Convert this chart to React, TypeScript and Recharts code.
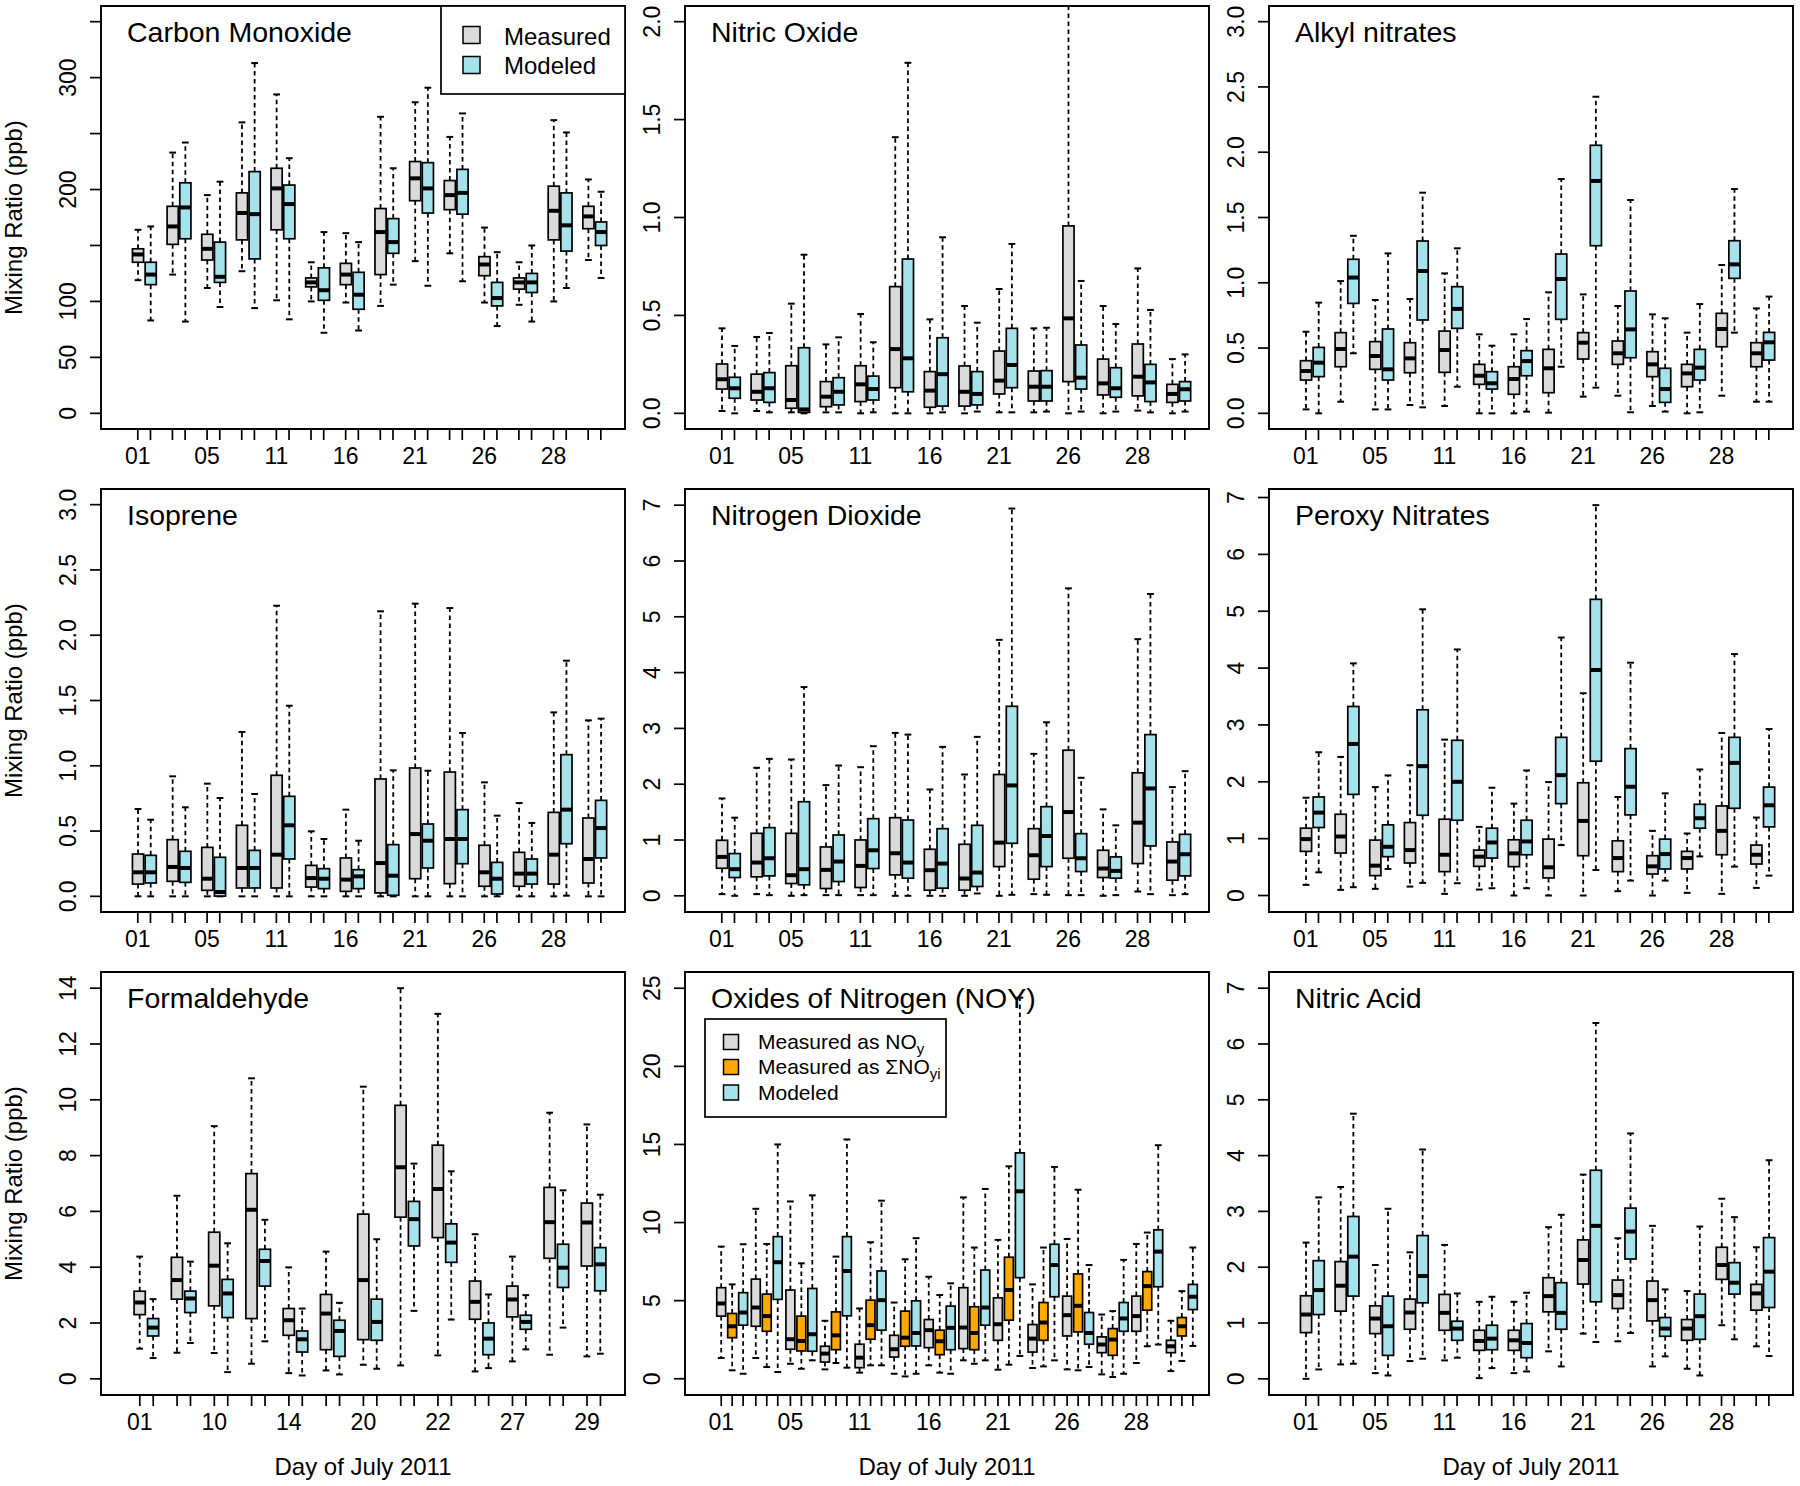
import React from 'react';
import { ComposedChart, Bar, XAxis, YAxis, ReferenceArea } from 'recharts';

// [lower whisker, Q1, median, Q3, upper whisker]
type Stat = [number, number, number, number, number];

const DAYS: string[] = ['01', '02', '05', '10', '11', '14', '16', '20', '21', '22', '26', '27', '28', '29'];
const DAYS_HCHO: string[] = ['01', '02', '10', '11', '14', '16', '20', '21', '22', '26', '27', '28', '29'];

const coMeasured: Stat[] = [
  [119, 135, 142, 147, 164], [124, 151, 167, 185, 233], [112, 137, 147, 160, 195], [127, 155, 179, 197, 260],
  [101, 164, 201, 219, 285], [100, 113, 117, 121, 135], [99, 115, 124, 134, 161], [96, 124, 162, 183, 265],
  [136, 190, 210, 225, 278], [143, 182, 195, 208, 247], [99, 123, 133, 140, 166], [97, 111, 117, 121, 135],
  [100, 155, 181, 203, 262], [137, 165, 176, 185, 209],
];
const coModeled: Stat[] = [
  [83, 115, 124, 135, 167], [82, 156, 184, 206, 242], [95, 117, 122, 153, 207], [94, 138, 178, 216, 313],
  [84, 156, 187, 204, 228], [72, 101, 110, 130, 162], [74, 93, 106, 126, 153], [115, 143, 153, 174, 219],
  [114, 179, 201, 224, 291], [118, 178, 197, 218, 268], [78, 96, 103, 117, 144], [82, 108, 117, 125, 150],
  [112, 145, 168, 197, 251], [121, 150, 162, 171, 198],
];

const noMeasured: Stat[] = [
  [0.012, 0.124, 0.174, 0.252, 0.434], [0.012, 0.068, 0.11, 0.2, 0.39], [0.005, 0.026, 0.068, 0.243, 0.56],
  [0.005, 0.034, 0.085, 0.162, 0.352], [0, 0.06, 0.148, 0.243, 0.507], [0, 0.131, 0.328, 0.647, 1.41],
  [0, 0.031, 0.116, 0.213, 0.48], [0, 0.037, 0.11, 0.242, 0.548], [0.005, 0.099, 0.167, 0.318, 0.635],
  [0.005, 0.063, 0.136, 0.216, 0.434], [0, 0.162, 0.485, 0.957, 2.6], [0, 0.094, 0.153, 0.277, 0.548],
  [0.014, 0.089, 0.187, 0.354, 0.74], [0, 0.056, 0.099, 0.148, 0.277],
];
const noModeled: Stat[] = [
  [0, 0.077, 0.128, 0.184, 0.344], [0.005, 0.056, 0.128, 0.208, 0.41], [0, 0.005, 0.02, 0.335, 0.81],
  [0.005, 0.043, 0.11, 0.182, 0.388], [0.005, 0.068, 0.124, 0.19, 0.363], [0, 0.11, 0.281, 0.788, 1.79],
  [0.005, 0.037, 0.2, 0.386, 0.899], [0.009, 0.043, 0.099, 0.213, 0.463], [0.005, 0.131, 0.247, 0.434, 0.865],
  [0.009, 0.063, 0.136, 0.218, 0.437], [0.009, 0.124, 0.182, 0.349, 0.676], [0.009, 0.082, 0.128, 0.233, 0.456],
  [0.005, 0.06, 0.158, 0.25, 0.528], [0.009, 0.063, 0.123, 0.162, 0.301],
];

const alkylMeasured: Stat[] = [
  [0.03, 0.255, 0.324, 0.403, 0.625], [0.089, 0.357, 0.493, 0.618, 1.013], [0.03, 0.337, 0.439, 0.549, 0.868],
  [0.064, 0.311, 0.421, 0.541, 0.876], [0.056, 0.314, 0.485, 0.63, 1.072], [0, 0.222, 0.288, 0.375, 0.605],
  [0, 0.146, 0.263, 0.357, 0.605], [0.005, 0.158, 0.345, 0.49, 0.927], [0.128, 0.416, 0.541, 0.618, 0.911],
  [0.135, 0.375, 0.46, 0.554, 0.822], [0.056, 0.281, 0.375, 0.472, 0.758], [0, 0.204, 0.306, 0.375, 0.618],
  [0.135, 0.51, 0.646, 0.766, 1.136], [0.089, 0.357, 0.46, 0.541, 0.804],
];
const alkylModeled: Stat[] = [
  [0, 0.281, 0.388, 0.505, 0.848], [0.46, 0.842, 1.04, 1.18, 1.36], [0.03, 0.255, 0.337, 0.646, 1.225],
  [0.046, 0.715, 1.09, 1.32, 1.69], [0.204, 0.651, 0.8, 0.97, 1.264], [0, 0.186, 0.23, 0.319, 0.518],
  [0.013, 0.288, 0.4, 0.48, 0.722], [0.357, 0.72, 1.029, 1.22, 1.795], [0.197, 1.284, 1.78, 2.053, 2.425],
  [0.008, 0.426, 0.643, 0.937, 1.634], [0.013, 0.084, 0.186, 0.345, 0.728], [0.008, 0.255, 0.35, 0.49, 0.837],
  [0.618, 1.034, 1.141, 1.322, 1.718], [0.089, 0.408, 0.544, 0.62, 0.894],
];

const isopreneMeasured: Stat[] = [
  [0, 0.094, 0.184, 0.324, 0.669], [0, 0.115, 0.225, 0.434, 0.919], [0, 0.046, 0.135, 0.375, 0.863],
  [0, 0.064, 0.217, 0.544, 1.259], [0, 0.064, 0.319, 0.927, 2.226], [0, 0.071, 0.14, 0.237, 0.498],
  [0, 0.038, 0.128, 0.294, 0.664], [0, 0.026, 0.255, 0.899, 2.183], [0, 0.135, 0.477, 0.983, 2.242],
  [0, 0.097, 0.439, 0.952, 2.208], [0, 0.077, 0.184, 0.391, 0.873], [0, 0.077, 0.174, 0.337, 0.715],
  [0, 0.094, 0.319, 0.643, 1.409], [0, 0.102, 0.286, 0.6, 1.348],
];
const isopreneModeled: Stat[] = [
  [0, 0.102, 0.184, 0.314, 0.587], [0, 0.107, 0.217, 0.345, 0.682], [0, 0.002, 0.033, 0.299, 0.753],
  [0, 0.064, 0.217, 0.352, 0.784], [0, 0.286, 0.544, 0.766, 1.46], [0, 0.059, 0.135, 0.212, 0.439],
  [0, 0.059, 0.153, 0.204, 0.426], [0, 0.008, 0.158, 0.396, 0.965], [0, 0.217, 0.426, 0.554, 0.962],
  [0, 0.25, 0.439, 0.664, 1.251], [0, 0.018, 0.135, 0.26, 0.618], [0, 0.094, 0.174, 0.286, 0.562],
  [0.005, 0.403, 0.664, 1.085, 1.805], [0, 0.294, 0.523, 0.735, 1.361],
];

const no2Measured: Stat[] = [
  [0.03, 0.494, 0.697, 0.995, 1.745], [0.03, 0.34, 0.596, 1.12, 2.294], [0, 0.22, 0.369, 1.12, 2.443],
  [0.012, 0.131, 0.465, 0.876, 1.984], [0.012, 0.149, 0.536, 1.001, 2.305], [0, 0.375, 0.763, 1.4, 2.919],
  [0, 0.101, 0.459, 0.834, 1.906], [0, 0.101, 0.31, 0.923, 2.174], [0, 0.524, 0.953, 2.174, 4.587],
  [0.03, 0.298, 0.727, 1.203, 2.544], [0.012, 0.673, 1.501, 2.609, 5.51], [0, 0.328, 0.489, 0.816, 1.549],
  [0.077, 0.578, 1.311, 2.204, 4.599], [0.012, 0.28, 0.614, 0.965, 1.948],
];
const no2Modeled: Stat[] = [
  [0, 0.328, 0.477, 0.757, 1.4], [0.012, 0.357, 0.673, 1.221, 2.454], [0.012, 0.197, 0.477, 1.686, 3.741],
  [0.012, 0.256, 0.614, 1.09, 2.335], [0.012, 0.489, 0.816, 1.382, 2.681], [0, 0.316, 0.596, 1.358, 2.889],
  [0, 0.137, 0.578, 1.203, 2.669], [0.042, 0.167, 0.417, 1.263, 2.848], [0.018, 0.941, 1.978, 3.396, 6.94],
  [0.018, 0.524, 1.072, 1.597, 3.11], [0.012, 0.435, 0.673, 1.114, 2.115], [0.012, 0.316, 0.447, 0.697, 1.263],
  [0.03, 0.894, 1.924, 2.889, 5.409], [0.03, 0.357, 0.745, 1.102, 2.234],
];

const peroxyMeasured: Stat[] = [
  [0.187, 0.776, 0.992, 1.184, 1.72], [0.099, 0.747, 1.038, 1.429, 2.438], [0.117, 0.35, 0.525, 0.974, 1.907],
  [0.157, 0.572, 0.799, 1.283, 2.292], [0.029, 0.42, 0.717, 1.342, 2.742], [0.105, 0.513, 0.683, 0.799, 1.207],
  [0, 0.508, 0.741, 0.98, 1.616], [0, 0.309, 0.496, 0.992, 1.995], [0, 0.7, 1.312, 1.983, 3.558],
  [0.076, 0.42, 0.659, 0.962, 1.733], [0, 0.379, 0.513, 0.7, 1.137], [0.047, 0.467, 0.659, 0.776, 1.091],
  [0.029, 0.717, 1.137, 1.575, 2.858], [0.134, 0.554, 0.717, 0.887, 1.371],
];
const peroxyModeled: Stat[] = [
  [0.408, 1.196, 1.458, 1.733, 2.52], [0.146, 1.779, 2.666, 3.325, 4.083], [0.467, 0.683, 0.857, 1.243, 2.112],
  [0.222, 1.412, 2.275, 3.267, 5.034], [0.216, 1.324, 2.0, 2.73, 4.328], [0.128, 0.659, 0.933, 1.184, 1.896],
  [0.128, 0.717, 0.951, 1.324, 2.199], [0.887, 1.616, 2.117, 2.782, 4.538], [0.449, 2.362, 3.967, 5.209, 6.866],
  [0.262, 1.418, 1.913, 2.584, 4.095], [0.262, 0.467, 0.729, 0.992, 1.797], [0.688, 1.184, 1.359, 1.604, 2.217],
  [0.508, 1.534, 2.333, 2.782, 4.247], [0.35, 1.207, 1.587, 1.907, 2.928],
];

const hchoMeasured: Stat[] = [
  [1.08, 2.3, 2.735, 3.14, 4.38], [0.936, 2.855, 3.539, 4.355, 6.56], [0.924, 2.615, 4.055, 5.254, 9.057],
  [0.54, 2.159, 6.058, 7.354, 10.77], [0.204, 1.56, 2.099, 2.519, 3.995], [0.3, 1.044, 2.339, 3.023, 4.559],
  [0.504, 1.404, 3.539, 5.902, 10.47], [0.48, 5.794, 7.582, 9.801, 14.0], [0.84, 5.062, 6.802, 8.373, 13.08],
  [0.264, 2.135, 2.759, 3.503, 5.182], [0.624, 2.219, 2.843, 3.323, 4.379], [0.864, 4.319, 5.614, 6.862, 9.537],
  [0.804, 4.043, 5.602, 6.298, 9.117],
];
const hchoModeled: Stat[] = [
  [0.744, 1.535, 1.835, 2.16, 2.855], [1.284, 2.375, 2.879, 3.143, 4.199], [0.24, 2.195, 3.059, 3.563, 4.858],
  [1.344, 3.323, 4.223, 4.643, 5.698], [0.12, 0.96, 1.416, 1.715, 2.519], [0.156, 0.804, 1.715, 2.099, 2.723],
  [0.36, 1.38, 2.039, 2.855, 5.002], [2.435, 4.762, 5.722, 6.358, 7.713], [2.123, 4.175, 4.882, 5.554, 7.438],
  [0.384, 0.864, 1.44, 2.003, 3.023], [1.056, 1.775, 2.039, 2.279, 2.999], [1.835, 3.275, 3.983, 4.823, 6.754],
  [0.9, 3.155, 4.103, 4.703, 6.598],
];

const noyMeasured: Stat[] = [
  [1.33, 4.01, 4.82, 5.83, 8.46], [1.33, 3.36, 4.56, 6.38, 10.88], [0.96, 1.89, 2.53, 5.68, 11.35],
  [0.6, 1.07, 1.61, 2.08, 3.71], [0.39, 0.71, 1.35, 2.21, 4.5], [0.32, 1.39, 1.89, 2.78, 4.88],
  [0.86, 1.99, 3.11, 3.79, 6.53], [1.18, 1.93, 3.28, 5.83, 11.61], [0.58, 2.46, 3.49, 5.18, 8.89],
  [0.69, 1.71, 2.57, 3.47, 6.04], [0.6, 2.74, 4.07, 5.29, 8.95], [0.28, 1.67, 2.19, 2.68, 4.11],
  [1.01, 3.04, 4.01, 5.29, 8.63], [0.49, 1.67, 2.08, 2.46, 3.71],
];
const noySum: Stat[] = [
  [0.54, 2.63, 3.36, 4.18, 6.04], [0.75, 3.04, 4.01, 5.42, 8.63], [0.64, 1.78, 2.42, 4.01, 7.39],
  [1.01, 1.86, 2.78, 4.28, 7.82], [0.86, 2.53, 3.43, 5.03, 8.74], [0.15, 2.08, 2.63, 4.33, 7.65],
  [0.39, 1.54, 2.4, 3.11, 5.36], [0.96, 1.86, 2.93, 4.61, 8.4], [0.9, 3.75, 5.68, 7.78, 13.6],
  [0.79, 2.46, 3.6, 4.88, 8.4], [0.54, 3.0, 4.67, 6.71, 12.1], [0.11, 1.5, 2.51, 3.21, 4.33],
  [2.08, 4.39, 5.93, 6.86, 9.36], [1.14, 2.74, 3.36, 3.92, 5.61],
];
const noyModeled: Stat[] = [
  [0.32, 3.43, 4.24, 5.51, 8.61], [0.43, 5.08, 7.46, 9.1, 15.0], [1.18, 1.76, 2.85, 5.78, 11.74],
  [0.71, 4.03, 6.9, 9.1, 15.32], [0.86, 3.11, 5.03, 6.9, 11.4], [0.32, 2.1, 2.93, 4.99, 9.0],
  [0.32, 1.86, 3.26, 4.65, 6.11], [1.18, 3.43, 4.56, 6.96, 12.15], [1.46, 6.47, 12.0, 14.46, 24.4],
  [1.18, 5.25, 7.28, 8.61, 13.56], [0.75, 2.21, 2.93, 4.24, 7.28], [0.32, 3.04, 3.86, 4.88, 7.61],
  [2.19, 5.89, 8.14, 9.53, 14.95], [2.1, 4.43, 5.25, 6.04, 8.4],
];

const hno3Measured: Stat[] = [
  [0, 0.828, 1.152, 1.488, 2.441], [0.258, 1.212, 1.668, 2.1, 3.437], [0.102, 0.81, 1.08, 1.308, 2.039],
  [0.318, 0.888, 1.188, 1.428, 2.267], [0.33, 0.87, 1.182, 1.512, 2.399], [0.012, 0.51, 0.678, 0.87, 1.38],
  [0.102, 0.51, 0.69, 0.87, 1.38], [0.492, 1.2, 1.482, 1.812, 2.717], [0.81, 1.698, 2.129, 2.489, 3.659],
  [0.672, 1.26, 1.5, 1.77, 2.519], [0.222, 1.038, 1.41, 1.752, 2.741], [0.18, 0.69, 0.9, 1.062, 1.572],
  [0.96, 1.782, 2.039, 2.357, 3.227], [0.582, 1.23, 1.53, 1.692, 2.357],
];
const hno3Modeled: Stat[] = [
  [0.168, 1.152, 1.59, 2.117, 3.251], [0.27, 1.482, 2.189, 2.909, 4.751], [0.06, 0.42, 0.942, 1.482, 3.047],
  [0.36, 1.362, 1.842, 2.567, 4.109], [0.378, 0.69, 0.9, 1.032, 1.53], [0.192, 0.522, 0.72, 0.96, 1.47],
  [0.132, 0.378, 0.642, 0.99, 1.542], [0.222, 0.888, 1.182, 1.722, 2.939], [0.66, 1.38, 2.741, 3.737, 6.376],
  [0.822, 2.147, 2.639, 3.059, 4.397], [0.402, 0.762, 0.9, 1.098, 1.602], [0.06, 0.708, 1.122, 1.518, 2.729],
  [0.708, 1.518, 1.722, 2.081, 2.897], [0.408, 1.278, 1.92, 2.531, 3.917],
];

// y-axis ticks and their labels
const coTicks = [0, 50, 100, 150, 200, 250, 300, 350];
const coTickLabels = ['0', '50', '100', '', '200', '', '300', ''];
const t2Ticks = [0, 0.5, 1, 1.5, 2];
const t2Labels = ['0.0', '0.5', '1.0', '1.5', '2.0'];
const t3Ticks = [0, 0.5, 1, 1.5, 2, 2.5, 3];
const t3Labels = ['0.0', '0.5', '1.0', '1.5', '2.0', '2.5', '3.0'];
const t7Ticks = [0, 1, 2, 3, 4, 5, 6, 7];
const t7Labels = ['0', '1', '2', '3', '4', '5', '6', '7'];
const t14Ticks = [0, 2, 4, 6, 8, 10, 12, 14];
const t14Labels = ['0', '2', '4', '6', '8', '10', '12', '14'];
const t25Ticks = [0, 5, 10, 15, 20, 25];
const t25Labels = ['0', '5', '10', '15', '20', '25'];

const GRAY = '#DADADA';
const CYAN = '#A5E2EB';
const ORANGE = '#FFA800';
const FONT = '"Liberation Sans", Arial, Helvetica, sans-serif';

const FRAME_W = 524;
const FRAME_H = 423;
const YA = 100;
const XA = 92;
const PAD = 3;
const COLS = [101, 685, 1269];
const ROWS = [6, 489, 972];

interface Layout { xDomain: [number, number]; offsets: number[]; boxW: number }
const PAIR14: Layout = { xDomain: [-0.245, 14.88], offsets: [-0.183, 0.183], boxW: 0.322 };
const PAIR13: Layout = { xDomain: [-0.221, 13.839], offsets: [-0.18, 0.18], boxW: 0.3 };
const TRIPLE14: Layout = { xDomain: [-0.364, 14.784], offsets: [-0.317, 0, 0.317], boxW: 0.258 };

interface Series { fill: string; stats: Stat[] }
interface PanelCfg {
  title: string;
  days: string[];
  layout: Layout;
  series: Series[];
  yDomain: [number, number];
  yTicks: number[];
  yLabels: string[];
  legend?: 'pair' | 'noy';
  col: number;
  row: number;
}

const PANELS: PanelCfg[] = [
  { title: 'Carbon Monoxide', days: DAYS, layout: PAIR14, series: [{ fill: GRAY, stats: coMeasured }, { fill: CYAN, stats: coModeled }], yDomain: [-14, 364], yTicks: coTicks, yLabels: coTickLabels, legend: 'pair', col: 0, row: 0 },
  { title: 'Nitric Oxide', days: DAYS, layout: PAIR14, series: [{ fill: GRAY, stats: noMeasured }, { fill: CYAN, stats: noModeled }], yDomain: [-0.08, 2.08], yTicks: t2Ticks, yLabels: t2Labels, col: 1, row: 0 },
  { title: 'Alkyl nitrates', days: DAYS, layout: PAIR14, series: [{ fill: GRAY, stats: alkylMeasured }, { fill: CYAN, stats: alkylModeled }], yDomain: [-0.12, 3.12], yTicks: t3Ticks, yLabels: t3Labels, col: 2, row: 0 },
  { title: 'Isoprene', days: DAYS, layout: PAIR14, series: [{ fill: GRAY, stats: isopreneMeasured }, { fill: CYAN, stats: isopreneModeled }], yDomain: [-0.12, 3.12], yTicks: t3Ticks, yLabels: t3Labels, col: 0, row: 1 },
  { title: 'Nitrogen Dioxide', days: DAYS, layout: PAIR14, series: [{ fill: GRAY, stats: no2Measured }, { fill: CYAN, stats: no2Modeled }], yDomain: [-0.29, 7.29], yTicks: t7Ticks, yLabels: t7Labels, col: 1, row: 1 },
  { title: 'Peroxy Nitrates', days: DAYS, layout: PAIR14, series: [{ fill: GRAY, stats: peroxyMeasured }, { fill: CYAN, stats: peroxyModeled }], yDomain: [-0.29, 7.15], yTicks: t7Ticks, yLabels: t7Labels, col: 2, row: 1 },
  { title: 'Formaldehyde', days: DAYS_HCHO, layout: PAIR13, series: [{ fill: GRAY, stats: hchoMeasured }, { fill: CYAN, stats: hchoModeled }], yDomain: [-0.58, 14.58], yTicks: t14Ticks, yLabels: t14Labels, col: 0, row: 2 },
  { title: 'Oxides of Nitrogen (NOY)', days: DAYS, layout: TRIPLE14, series: [{ fill: GRAY, stats: noyMeasured }, { fill: ORANGE, stats: noySum }, { fill: CYAN, stats: noyModeled }], yDomain: [-1.04, 26.04], yTicks: t25Ticks, yLabels: t25Labels, legend: 'noy', col: 1, row: 2 },
  { title: 'Nitric Acid', days: DAYS, layout: PAIR14, series: [{ fill: GRAY, stats: hno3Measured }, { fill: CYAN, stats: hno3Modeled }], yDomain: [-0.29, 7.29], yTicks: t7Ticks, yLabels: t7Labels, col: 2, row: 2 },
];

const BoxShape = (props: any) => {
  const { x, y, width, height, payload } = props;
  if (!payload || x == null || y == null) return null;
  const [lo, q1, med, q3, hi] = payload.stats as Stat;
  const top = Math.min(y, y + height);
  const bot = Math.max(y, y + height);
  const py = (v: number) => bot - ((bot - top) * (v - lo)) / (hi - lo);
  const cx = x + width / 2;
  const cap = 3.4;
  return (
    <g>
      <line x1={cx} x2={cx} y1={py(q3)} y2={py(hi)} stroke="#000" strokeWidth={1.8} strokeDasharray="4.5 3.5" />
      <line x1={cx} x2={cx} y1={py(q1)} y2={py(lo)} stroke="#000" strokeWidth={1.8} strokeDasharray="4.5 3.5" />
      <line x1={cx - cap} x2={cx + cap} y1={py(hi)} y2={py(hi)} stroke="#000" strokeWidth={2} />
      <line x1={cx - cap} x2={cx + cap} y1={py(lo)} y2={py(lo)} stroke="#000" strokeWidth={2} />
      <rect x={x} y={py(q3)} width={width} height={Math.max(0, py(q1) - py(q3))} fill={payload.fill} stroke="#000" strokeWidth={1.7} />
      <line x1={x} x2={x + width} y1={py(med)} y2={py(med)} stroke="#000" strokeWidth={4} />
    </g>
  );
};

function Overlay(cfg: PanelCfg) {
  return (p: any) => {
    const vb = p.viewBox || {};
    const x = vb.x ?? YA;
    const y = vb.y ?? PAD;
    const width = vb.width ?? FRAME_W;
    const height = vb.height ?? FRAME_H;
    return (
      <g fontFamily={FONT} fill="#000">
        <text x={x + 26} y={y + 36} fontSize={28.5}>{cfg.title}</text>
        {cfg.legend === 'pair' && (
          <g>
            <rect x={x + 340} y={y} width={width - 340} height={88} fill="#fff" stroke="#000" strokeWidth={1.7} />
            <rect x={x + 362} y={y + 20.5} width={17} height={17} fill={GRAY} stroke="#000" strokeWidth={1.5} />
            <rect x={x + 362} y={y + 50.5} width={17} height={17} fill={CYAN} stroke="#000" strokeWidth={1.5} />
            <text x={x + 403} y={y + 38.5} fontSize={24}>Measured</text>
            <text x={x + 403} y={y + 67.5} fontSize={24}>Modeled</text>
          </g>
        )}
        {cfg.legend === 'noy' && (
          <g>
            <rect x={x + 20} y={y + 47} width={241} height={98} fill="#fff" stroke="#000" strokeWidth={1.7} />
            <rect x={x + 38.5} y={y + 62.5} width={15} height={15} fill={GRAY} stroke="#000" strokeWidth={1.5} />
            <rect x={x + 38.5} y={y + 87.5} width={15} height={15} fill={ORANGE} stroke="#000" strokeWidth={1.5} />
            <rect x={x + 38.5} y={y + 113} width={15} height={15} fill={CYAN} stroke="#000" strokeWidth={1.5} />
            <text x={x + 73} y={y + 77} fontSize={21}>
              Measured as NO<tspan fontSize={15} dy={5}>y</tspan>
            </text>
            <text x={x + 73} y={y + 102} fontSize={21}>
              Measured as ΣNO<tspan fontSize={15} dy={5}>yi</tspan>
            </text>
            <text x={x + 73} y={y + 128} fontSize={21}>Modeled</text>
          </g>
        )}
        {cfg.col === 0 && (
          <text transform={`translate(${x - 79},${y + height / 2}) rotate(-90)`} textAnchor="middle" fontSize={24}>
            Mixing Ratio (ppb)
          </text>
        )}
        {cfg.row === 2 && (
          <text x={x + width / 2} y={y + height + 80} textAnchor="middle" fontSize={24}>
            Day of July 2011
          </text>
        )}
      </g>
    );
  };
}

function Panel({ cfg }: { cfg: PanelCfg }) {
  const { layout } = cfg;
  const rows: any[] = [];
  cfg.days.forEach((_d, i) => {
    cfg.series.forEach((s, k) => {
      const st = s.stats[i];
      rows.push({ x: i + 1 + layout.offsets[k], range: [st[0], st[4]], stats: st, fill: s.fill });
    });
  });
  const xTicks = rows.map((r) => r.x);
  const xLabels = new Map<string, string>();
  cfg.days.forEach((d, i) => {
    if (i % 2 === 0) xLabels.set((i + 1 + layout.offsets[0]).toFixed(4), d);
  });
  const yLabels = new Map<string, string>();
  cfg.yTicks.forEach((t, i) => yLabels.set(t.toFixed(4), cfg.yLabels[i]));
  const pxPerUnit = FRAME_W / (layout.xDomain[1] - layout.xDomain[0]);
  const barSize = layout.boxW * pxPerUnit;

  const XTick = (p: any) => {
    const { x, y, payload } = p;
    const lab = xLabels.get(Number(payload.value).toFixed(4));
    return (
      <g>
        <line x1={x} x2={x} y1={y} y2={y + 11} stroke="#000" strokeWidth={1.7} />
        {lab && (
          <text x={x} y={y + 35} textAnchor="middle" fontSize={23} fontFamily={FONT} fill="#000">{lab}</text>
        )}
      </g>
    );
  };
  const YTick = (p: any) => {
    const { x, y, payload } = p;
    const lab = yLabels.get(Number(payload.value).toFixed(4));
    return (
      <g>
        <line x1={x - 11} x2={x} y1={y} y2={y} stroke="#000" strokeWidth={1.7} />
        {lab && (
          <text transform={`translate(${x - 25},${y}) rotate(-90)`} textAnchor="middle" fontSize={23} fontFamily={FONT} fill="#000">{lab}</text>
        )}
      </g>
    );
  };

  return (
    <div style={{ position: 'absolute', left: COLS[cfg.col] - YA, top: ROWS[cfg.row] - PAD }}>
      <ComposedChart
        width={YA + FRAME_W + PAD}
        height={PAD + FRAME_H + XA}
        data={rows}
        margin={{ top: PAD, right: PAD, bottom: 0, left: 0 }}
      >
        <XAxis
          type="number"
          dataKey="x"
          domain={layout.xDomain}
          allowDataOverflow
          ticks={xTicks}
          interval={0}
          tickSize={0}
          tickMargin={0}
          axisLine={false}
          tickLine={false}
          height={XA}
          tick={XTick}
        />
        <YAxis
          type="number"
          domain={cfg.yDomain}
          allowDataOverflow
          ticks={cfg.yTicks}
          interval={0}
          tickSize={0}
          tickMargin={0}
          axisLine={false}
          tickLine={false}
          width={YA}
          tick={YTick}
        />
        <Bar dataKey="range" barSize={barSize} shape={BoxShape} isAnimationActive={false} />
        <ReferenceArea
          x1={layout.xDomain[0]}
          x2={layout.xDomain[1]}
          y1={cfg.yDomain[0]}
          y2={cfg.yDomain[1]}
          fill="none"
          fillOpacity={0}
          stroke="#000"
          strokeWidth={1.9}
          ifOverflow="visible"
          label={Overlay(cfg)}
        />
      </ComposedChart>
    </div>
  );
}

export default function App() {
  return (
    <div style={{ position: 'absolute', left: 0, top: 0, width: 1800, height: 1486, background: '#fff', fontFamily: FONT }}>
      {PANELS.map((cfg, i) => (
        <Panel key={i} cfg={cfg} />
      ))}
    </div>
  );
}
